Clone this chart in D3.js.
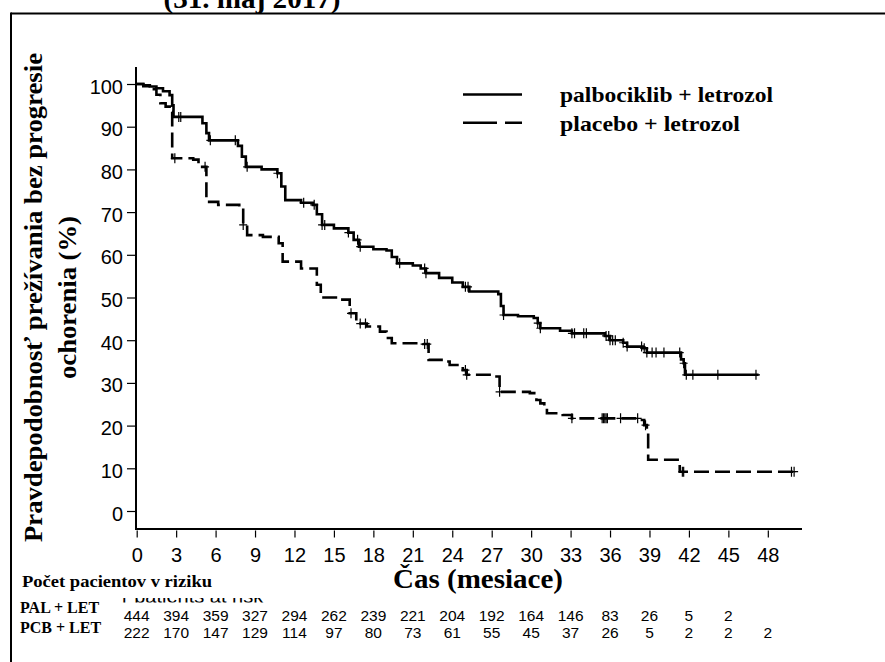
<!DOCTYPE html>
<html>
<head>
<meta charset="utf-8">
<script src="https://cdn.jsdelivr.net/npm/d3@7"></script>
<style>
  html, body { margin: 0; padding: 0; background: #fff; }
  svg { display: block; }
</style>
</head>
<body>
<svg id="chart" width="885" height="662"></svg>
<script>
// ---------------- DATA ----------------
const xTicks = [0, 3, 6, 9, 12, 15, 18, 21, 24, 27, 30, 33, 36, 39, 42, 45, 48];
const yTicks = [0, 10, 20, 30, 40, 50, 60, 70, 80, 90, 100];

// palbociklib + letrozol (Kaplan-Meier steps: time in months, PFS %)
const palTimes = [0, 0.5, 1.0, 1.5, 2.0, 2.5, 2.7, 2.8, 5.0, 5.3, 5.5, 7.7, 8.0, 8.3, 9.5, 10.7, 11.0, 11.3, 12.5, 13.4, 13.7, 14.1, 15.0, 16.1, 16.5, 16.9, 18.0, 19.0, 19.4, 19.8, 21.0, 21.6, 22.0, 23.0, 24.0, 24.8, 25.3, 27.5, 27.7, 27.9, 29.0, 30.2, 30.5, 30.7, 32.2, 33.1, 35.6, 36.0, 37.0, 37.3, 38.5, 38.8, 41.4, 41.6, 41.7, 47.3];
const palSurv  = [100, 99.7, 99.4, 99.0, 98.3, 97.4, 95.0, 92.3, 90.8, 88.5, 86.8, 85.5, 83.0, 80.6, 80.0, 79.1, 76.0, 72.8, 72.2, 71.7, 69.5, 67.0, 66.2, 65.2, 63.5, 61.9, 61.3, 61.0, 59.5, 58.0, 57.5, 56.8, 55.7, 54.6, 53.5, 52.5, 51.4, 50.8, 48.0, 45.9, 45.6, 45.2, 44.0, 42.8, 42.2, 41.6, 41.0, 40.0, 39.4, 38.5, 38.1, 37.1, 35.5, 34.6, 31.9, 31.9];
const palCensor = [3.2, 3.35, 5.6, 7.5, 8.4, 10.7, 12.7, 13.5, 14.1, 14.3, 16.1, 16.8, 17.0, 20.0, 21.9, 22.0, 25.0, 25.2, 27.9, 30.5, 30.7, 33.1, 33.3, 34.0, 34.2, 35.7, 35.9, 36.0, 36.2, 36.4, 37.0, 37.3, 38.4, 38.6, 38.8, 39.2, 39.5, 40.1, 41.3, 41.6, 41.8, 42.3, 44.2, 47.1];

// placebo + letrozol
const pcbTimes = [0, 0.5, 1.0, 1.5, 1.8, 2.2, 2.6, 2.7, 4.3, 4.7, 5.3, 6.2, 7.8, 8.1, 8.4, 9.6, 10.8, 11.1, 12.5, 13.7, 14.0, 15.5, 16.2, 16.7, 17.5, 18.5, 19.0, 19.4, 21.8, 22.2, 23.3, 23.8, 24.8, 25.1, 27.2, 27.6, 29.9, 30.4, 30.7, 31.0, 31.2, 32.4, 33.1, 38.3, 38.6, 38.8, 38.9, 41.3, 50.2];
const pcbSurv  = [100, 99.5, 98.8, 97.5, 95.5, 94.7, 93.5, 82.6, 82.3, 80.6, 72.4, 71.7, 70.9, 67.0, 64.6, 64.2, 62.7, 58.4, 56.8, 53.0, 50.0, 49.5, 46.3, 43.9, 43.2, 42.0, 40.5, 39.3, 39.1, 35.4, 35.0, 34.2, 33.0, 31.9, 31.5, 27.9, 27.6, 26.0, 25.2, 24.4, 22.9, 22.5, 21.7, 21.3, 20.1, 19.0, 12.0, 9.2, 9.2];
const pcbCensor = [2.9, 5.2, 8.1, 16.3, 17.0, 17.4, 21.9, 22.1, 25.0, 25.1, 27.6, 33.1, 35.4, 35.5, 35.6, 35.7, 35.8, 36.8, 38.1, 38.7, 41.5, 41.6, 49.8, 50.0];

// number at risk
const atRiskPal = [444, 394, 359, 327, 294, 262, 239, 221, 204, 192, 164, 146, 83, 26, 5, 2];
const atRiskPcb = [222, 170, 147, 129, 114, 97, 80, 73, 61, 55, 45, 37, 26, 5, 2, 2, 2];

const seriesNames = ["palbociklib + letrozol", "placebo + letrozol"];
const rowLabels = ["PAL + LET", "PCB + LET"];

// ---------------- DRAW ----------------
const svg = d3.select("#chart");
const serif = "'Liberation Serif', 'Times New Roman', serif";
const sans = "'Liberation Sans', Arial, sans-serif";

svg.append("rect").attr("width", 885).attr("height", 662).attr("fill", "#fff");

// title fragment at top (clipped by window)
svg.append("text")
  .attr("x", 252).attr("y", 7.5)
  .attr("text-anchor", "middle")
  .attr("font-family", serif).attr("font-weight", "bold").attr("font-size", 27)
  .attr("textLength", 177).attr("lengthAdjust", "spacingAndGlyphs")
  .text("(31. máj 2017)");

// frame
svg.append("line").attr("x1", 11).attr("x2", 885).attr("y1", 13.5).attr("y2", 13.5)
  .attr("stroke", "#000").attr("stroke-width", 2);
svg.append("line").attr("x1", 11).attr("x2", 11).attr("y1", 12.5).attr("y2", 662)
  .attr("stroke", "#000").attr("stroke-width", 2);

const x = d3.scaleLinear().domain([0, 50.6]).range([136.7, 802]);
const y = d3.scaleLinear().domain([0, 100]).range([511, 84]);

// axis lines
svg.append("line").attr("x1", 136).attr("x2", 136).attr("y1", 67).attr("y2", 530)
  .attr("stroke", "#000").attr("stroke-width", 2);
svg.append("line").attr("x1", 135).attr("x2", 802).attr("y1", 529).attr("y2", 529)
  .attr("stroke", "#000").attr("stroke-width", 2);

// y axis
const yAxis = svg.append("g").attr("transform", "translate(136,0)")
  .call(d3.axisLeft(y).tickValues(yTicks).tickSize(9).tickSizeOuter(0).tickPadding(4));
yAxis.select(".domain").remove();
yAxis.selectAll(".tick line").attr("stroke", "#000").attr("stroke-width", 1.2);
yAxis.selectAll(".tick text")
  .attr("font-family", sans).attr("font-size", 20).attr("fill", "#000")
  .attr("dy", "0.45em");

// x axis
const xAxis = svg.append("g").attr("transform", "translate(0,530.5)")
  .call(d3.axisBottom(x).tickValues(xTicks).tickSize(7).tickSizeOuter(0).tickPadding(10));
xAxis.select(".domain").remove();
xAxis.selectAll(".tick line").attr("stroke", "#000").attr("stroke-width", 1.2);
xAxis.selectAll(".tick text")
  .attr("font-family", sans).attr("font-size", 20).attr("fill", "#000");

// y axis title
const yTitle = svg.append("g").attr("transform", "translate(42,297.5) rotate(-90)");
yTitle.append("text").attr("x", 0).attr("y", 0).attr("text-anchor", "middle")
  .attr("font-family", serif).attr("font-weight", "bold").attr("font-size", 25.5)
  .attr("textLength", 489).attr("lengthAdjust", "spacingAndGlyphs")
  .text("Pravdepodobnosť prežívania bez progresie");
yTitle.append("text").attr("x", 0).attr("y", 34).attr("text-anchor", "middle")
  .attr("font-family", serif).attr("font-weight", "bold").attr("font-size", 25.5)
  .attr("textLength", 163).attr("lengthAdjust", "spacingAndGlyphs")
  .text("ochorenia (%)");

// x axis title
svg.append("text").attr("x", 478).attr("y", 588).attr("text-anchor", "middle")
  .attr("font-family", serif).attr("font-weight", "bold").attr("font-size", 27)
  .attr("textLength", 170).attr("lengthAdjust", "spacingAndGlyphs")
  .text("Čas (mesiace)");

// curves
const line = d3.line().x(d => x(d[0])).y(d => y(d[1])).curve(d3.curveStepAfter);
const palPts = palTimes.map((t, i) => [t, palSurv[i]]);
const pcbPts = pcbTimes.map((t, i) => [t, pcbSurv[i]]);

svg.append("path").datum(palPts).attr("d", line)
  .attr("fill", "none").attr("stroke", "#000").attr("stroke-width", 2.6);
svg.append("path").datum(pcbPts).attr("d", line)
  .attr("fill", "none").attr("stroke", "#000").attr("stroke-width", 2.6)
  .attr("stroke-dasharray", "15,6");

function survAt(times, surv, t) {
  let v = surv[0];
  for (let i = 0; i < times.length; i++) { if (times[i] <= t) v = surv[i]; else break; }
  return v;
}
function drawCensor(cs, times, surv) {
  svg.append("g").selectAll("path").data(cs).join("path")
    .attr("d", t => {
      const cx = x(t), cy = y(survAt(times, surv, t));
      return `M${cx - 4},${cy}H${cx + 4}M${cx},${cy - 5}V${cy + 5}`;
    })
    .attr("stroke", "#000").attr("stroke-width", 1.2).attr("fill", "none");
}
drawCensor(palCensor, palTimes, palSurv);
drawCensor(pcbCensor, pcbTimes, pcbSurv);

// legend
const legend = svg.append("g");
legend.append("line").attr("x1", 463).attr("x2", 522).attr("y1", 94.5).attr("y2", 94.5)
  .attr("stroke", "#000").attr("stroke-width", 2.6);
legend.append("line").attr("x1", 463).attr("x2", 522).attr("y1", 122.7).attr("y2", 122.7)
  .attr("stroke", "#000").attr("stroke-width", 2.6).attr("stroke-dasharray", "34,8");
legend.append("text").attr("x", 560).attr("y", 102)
  .attr("font-family", serif).attr("font-weight", "bold").attr("font-size", 21)
  .attr("textLength", 213).attr("lengthAdjust", "spacingAndGlyphs")
  .text(seriesNames[0]);
legend.append("text").attr("x", 560).attr("y", 130.5)
  .attr("font-family", serif).attr("font-weight", "bold").attr("font-size", 21)
  .attr("textLength", 180).attr("lengthAdjust", "spacingAndGlyphs")
  .text(seriesNames[1]);

// number at risk
svg.append("text").attr("x", 22).attr("y", 587)
  .attr("font-family", serif).attr("font-weight", "bold").attr("font-size", 17)
  .attr("textLength", 190).attr("lengthAdjust", "spacingAndGlyphs")
  .text("Počet pacientov v riziku");

// partially hidden English fragment (only bottom strip visible)
svg.append("clipPath").attr("id", "fragClip")
  .append("rect").attr("x", 115).attr("y", 598).attr("width", 170).attr("height", 4.5);
svg.append("text").attr("x", 122).attr("y", 602.5)
  .attr("clip-path", "url(#fragClip)")
  .attr("font-family", sans).attr("font-size", 20)
  .text("r patients at risk");

svg.append("text").attr("x", 20).attr("y", 613)
  .attr("font-family", serif).attr("font-weight", "bold").attr("font-size", 16)
  .text(rowLabels[0]);
svg.append("text").attr("x", 20).attr("y", 633)
  .attr("font-family", serif).attr("font-weight", "bold").attr("font-size", 16)
  .text(rowLabels[1]);

svg.append("g").selectAll("text").data(atRiskPal).join("text")
  .attr("x", (d, i) => x(xTicks[i])).attr("y", 621)
  .attr("text-anchor", "middle").attr("font-family", sans).attr("font-size", 15.5)
  .text(d => d);
svg.append("g").selectAll("text").data(atRiskPcb).join("text")
  .attr("x", (d, i) => x(xTicks[i])).attr("y", 638)
  .attr("text-anchor", "middle").attr("font-family", sans).attr("font-size", 15.5)
  .text(d => d);
</script>
</body>
</html>
